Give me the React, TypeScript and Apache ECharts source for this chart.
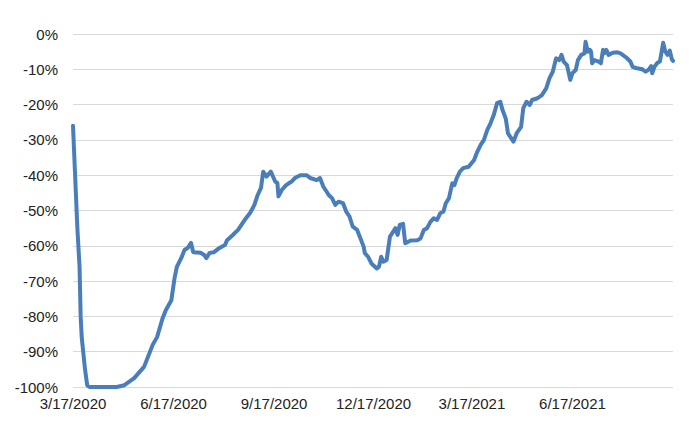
import React, { useEffect, useRef } from "react";
import * as echarts from "echarts";

// x: days since 3/17/2020, y: percent change
const dayOffsets = [
  0, 4, 6, 7, 8, 9, 11, 13, 15, 40, 47, 56, 65, 70, 73, 77, 82, 85, 90, 93, 95, 99, 102, 105, 108, 110,
  117, 120, 122, 125, 129, 134, 139, 141, 146, 151, 157, 162, 166, 169, 172, 174, 177, 181, 185, 187,
  188, 191, 195, 200, 203, 208, 214, 217, 223, 226, 229, 234, 237, 240, 243, 247, 250, 253, 256, 260,
  263, 266, 267, 270, 273, 278, 280, 282, 284, 287, 290, 293, 295, 297, 299, 302, 304, 309, 315, 318,
  321, 324, 327, 330, 333, 336, 339, 341, 344, 347, 349, 351, 354, 357, 362, 367, 370, 373, 376, 379,
  382, 385, 388, 391, 393, 396, 398, 400, 403, 406, 410, 412, 415, 418, 420, 425, 429, 433, 436, 439,
  442, 445, 447, 449, 452, 455, 457, 460, 462, 465, 468, 469, 471, 473, 474, 475, 477, 481, 483, 485,
  486, 488, 490, 494, 498, 501, 506, 510, 512, 516, 521, 524, 527, 529, 530, 532, 535, 537, 540, 542,
  544, 546, 548, 549,
];
const changePct = [
  -26, -55, -66, -80, -86, -89, -95, -99.5, -100, -100, -99.5, -97.5, -94.3, -90.4, -88, -85.8, -80.5,
  -78.2, -75.4, -69, -66, -63.5, -61.2, -60.6, -59.2, -61.8, -62, -62.6, -63.5, -62, -61.8, -60.6, -59.8,
  -58.4, -57, -55.5, -52.7, -50.7, -48.4, -45.6, -43.6, -39, -40.4, -39, -41.8, -42.2, -46, -44.2, -42.8,
  -41.8, -40.8, -40, -40, -40.8, -41.4, -40.8, -43.2, -45.6, -46.5, -48.4, -47.5, -47.9, -50.3, -51.7,
  -54.6, -55.5, -57.9, -60.3, -62.1, -63.1, -65, -66.4, -65.9, -63.1, -64.5, -64, -57.4, -56, -55, -56.9,
  -54.1, -53.8, -59.3, -58.5, -58.4, -57.9, -55.5, -55, -53.2, -52.2, -52.7, -50.8, -50.3, -48, -46.5,
  -42.3, -42.8, -40.9, -39, -38, -37.6, -35.7, -33.3, -31.4, -30, -27.2, -25.3, -22.9, -19.6, -19.2,
  -21.5, -24, -28.1, -29.1, -30.5, -28.1, -26.3, -21, -19.2, -20.1, -18.7, -18.2, -17.3, -15.4, -12.5,
  -10.7, -6.9, -7.4, -5.9, -7.8, -8.8, -13, -11.1, -10.2, -7.4, -5.9, -5.5, -2.2, -5, -4.5, -5, -8.3,
  -7.4, -7.8, -8.3, -4.5, -5.5, -4.5, -5.9, -5.3, -5.2, -5.5, -6.6, -7.8, -9.3, -9.7, -10, -10.7, -10,
  -9.1, -11.1, -9.3, -8.1, -7.8, -2.5, -5, -5.9, -4.7, -7.2, -7.6,
];
const tickDays = [0, 92, 184, 275, 365, 457];
const tickLabels = ["3/17/2020", "6/17/2020", "9/17/2020", "12/17/2020", "3/17/2021", "6/17/2021"];

export default function App() {
  const ref = useRef<HTMLDivElement>(null);
  useEffect(() => {
    if (!ref.current) return;
    const chart = echarts.init(ref.current, null, { renderer: "svg" });
    const data = dayOffsets.map((d, i) => [d, changePct[i]]);
    const textStyle = {
      color: "#222222",
      fontFamily: "'Liberation Sans', Arial, sans-serif",
      fontSize: 15,
    };
    chart.setOption({
      animation: false,
      grid: { left: 73, right: 24, top: 34, bottom: 49, containLabel: false },
      xAxis: {
        type: "value",
        min: 0,
        max: 549,
        axisLine: { show: false },
        axisTick: { show: false },
        splitLine: { show: false },
        axisLabel: {
          ...textStyle,
          margin: 9,
          customValues: tickDays,
          formatter: (v: number) => {
            const i = tickDays.indexOf(Math.round(v));
            return i >= 0 ? tickLabels[i] : "";
          },
        },
      },
      yAxis: {
        type: "value",
        min: -100,
        max: 0,
        interval: 10,
        axisLine: { show: false },
        axisTick: { show: false },
        splitLine: { lineStyle: { color: "#d9d9d9", width: 1 } },
        axisLabel: {
          ...textStyle,
          margin: 15,
          formatter: (v: number) => `${v}%`,
        },
      },
      series: [
        {
          type: "line",
          data,
          showSymbol: false,
          symbol: "none",
          lineStyle: { color: "#4a7ebb", width: 4, cap: "round", join: "round" },
        },
      ],
    });
    return () => chart.dispose();
  }, []);
  return <div ref={ref} style={{ width: 697, height: 436, position: "absolute", left: 0, top: 0 }} />;
}
